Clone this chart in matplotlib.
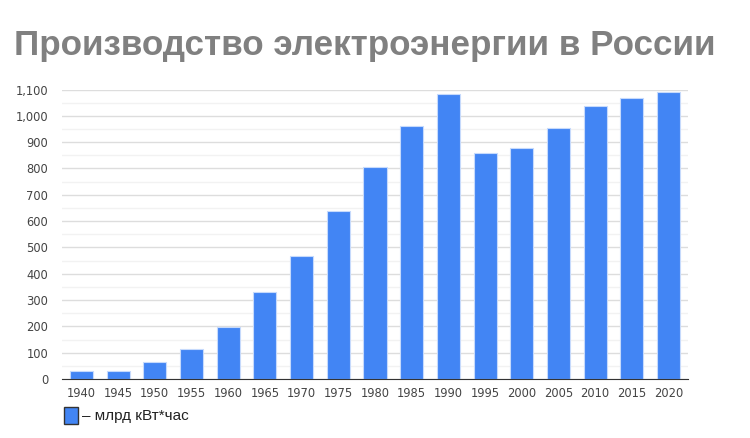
import matplotlib
matplotlib.use("Agg")
import matplotlib.pyplot as plt
from matplotlib.ticker import MultipleLocator, FuncFormatter
from matplotlib.patches import Rectangle

years = ["1940", "1945", "1950", "1955", "1960", "1965", "1970", "1975", "1980",
         "1985", "1990", "1995", "2000", "2005", "2010", "2015", "2020"]
values = [30, 32, 63, 115, 196, 332, 469, 640, 805, 962, 1082, 860, 877, 953, 1038, 1067, 1090]
title = "Производство электроэнергии в России"
legend_label = "– млрд кВт*час"

fig = plt.figure(figsize=(7.5, 4.38), dpi=100)
ax = fig.add_axes([62/750, 1-379/438, (688-62)/750, (379-89.5)/438])

x = list(range(len(years)))
ax.bar(x, values, width=0.63, color="#4285F4", edgecolor="#c6dafc", linewidth=0.8, zorder=3)
ax.set_xlim(-0.53, len(years)-1+0.53)
ax.set_ylim(0, 1100)
ax.yaxis.set_major_locator(MultipleLocator(100))
ax.yaxis.set_minor_locator(MultipleLocator(50))
ax.yaxis.set_major_formatter(FuncFormatter(lambda v, p: f"{int(v):,}"))
ax.grid(axis="y", which="major", color="#dddddd", linewidth=1, zorder=0)
ax.grid(axis="y", which="minor", color="#f2f2f2", linewidth=1, zorder=0)
ax.set_xticks(x)
ax.set_xticklabels(years)
for s in ["top", "right", "left"]:
    ax.spines[s].set_visible(False)
ax.spines["bottom"].set_color("#333333")
ax.spines["bottom"].set_zorder(4)
ax.tick_params(axis="both", which="both", length=0, labelsize=8.3, labelcolor="#444444")
ax.tick_params(axis="y", pad=10)
ax.tick_params(axis="x", pad=6)

fig.text(365/750, 1-46/438, title, ha="center", va="center", fontsize=25.2, fontweight="bold",
         color="#808080", family="Liberation Sans")

fig.patches.append(Rectangle((64/750, 1-424/438), 14/750, 17/438, transform=fig.transFigure,
                             facecolor="#4285F4", edgecolor="#333333", linewidth=1))
fig.text(82/750, 1-416/438, legend_label, ha="left", va="center", fontsize=11,
         color="#222222", family="Liberation Sans")

fig.savefig("out.png", dpi=100)
